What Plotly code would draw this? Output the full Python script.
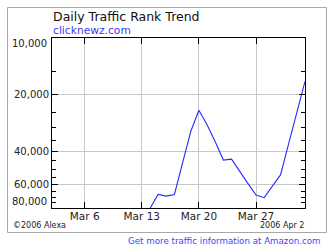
import math
import plotly.graph_objects as go

# ---- data ----
dates = ["2006-03-14", "2006-03-15", "2006-03-16", "2006-03-17", "2006-03-18",
         "2006-03-19", "2006-03-20", "2006-03-21", "2006-03-22", "2006-03-23",
         "2006-03-24", "2006-03-25", "2006-03-26", "2006-03-27", "2006-03-28",
         "2006-03-29", "2006-03-30", "2006-03-31", "2006-04-01", "2006-04-02"]
ranks = [80500, 67800, 69200, 67800, 46100,
         31400, 24200, 28900, 35600, 44500,
         44000, 51300, 59200, 68300, 70500,
         61200, 53400, 36400, 24500, 17000]

x_tickvals = ["2006-03-06", "2006-03-13", "2006-03-20", "2006-03-27"]
x_ticktext = ["Mar 6", "Mar 13", "Mar 20", "Mar 27"]
y_tickvals = [10000, 20000, 40000, 60000, 80000]
y_ticktext = ["10,000", "20,000", "40,000", "60,000", "80,000"]
y_minorvals = [15000, 25000, 30000, 35000, 45000, 50000, 55000, 65000, 70000, 75000]

title_text = "Daily Traffic Rank Trend"
site_text = "clicknewz.com"
copyright_text = "\u00a92006 Alexa"
date_text = "2006 Apr 2"
link_text = "Get more traffic information at Amazon.com"

FONT = "DejaVu Sans"
W, H = 334, 249
L, R, T, B = 52, 29, 38, 41
PW, PH = W - L - R, H - T - B


def px_x(p):
    return (p - L) / PW


def px_y(p):
    return (H - B - p) / PH


fig = go.Figure()
fig.add_trace(go.Scatter(x=dates, y=ranks, mode="lines",
                         line=dict(color="#2a2aff", width=1.1),
                         hoverinfo="skip", showlegend=False))

fig.update_layout(
    width=W, height=H,
    margin=dict(l=L, r=R, t=T, b=B, pad=0),
    paper_bgcolor="white", plot_bgcolor="white",
    font=dict(family=FONT, color="#222222", size=10),
    xaxis=dict(
        type="date", range=["2006-03-02", "2006-04-02"],
        tickmode="array", tickvals=x_tickvals, ticktext=x_ticktext,
        ticks="inside", ticklen=6, tickcolor="black", tickwidth=1,
        showline=True, linecolor="black", linewidth=1, mirror="ticks",
        showgrid=True, gridcolor="#c8c8c8", gridwidth=1,
        zeroline=False, tickfont=dict(size=10.5, color="#222222"),
        ticklabelstandoff=-2,
        fixedrange=True,
    ),
    yaxis=dict(
        type="log", range=[math.log10(80000), math.log10(10000)],
        tickmode="array", tickvals=y_tickvals,
        ticktext=["", y_ticktext[1], y_ticktext[2], y_ticktext[3], ""],
        ticks="inside", ticklen=6, tickcolor="black", tickwidth=1,
        showline=True, linecolor="black", linewidth=1, mirror="ticks",
        showgrid=True, gridcolor="#c8c8c8", gridwidth=1,
        zeroline=False, tickfont=dict(size=10, color="#222222"),
        minor=dict(tickmode="array", tickvals=y_minorvals, ticks="inside",
                   ticklen=4, tickcolor="black", tickwidth=1, showgrid=False),
        fixedrange=True,
    ),
)

# end labels of y axis, nudged inward as in the original
fig.add_annotation(xref="paper", yref="y", x=px_x(48.5), y=math.log10(10000),
                   text=y_ticktext[0], showarrow=False, xanchor="right",
                   yanchor="middle", yshift=-5,
                   font=dict(family=FONT, size=10, color="#222222"))
fig.add_annotation(xref="paper", yref="y", x=px_x(48.5), y=math.log10(80000),
                   text=y_ticktext[4], showarrow=False, xanchor="right",
                   yanchor="middle", yshift=7,
                   font=dict(family=FONT, size=10, color="#222222"))

# outer frame
fig.add_shape(type="rect", xref="paper", yref="paper",
              x0=px_x(7.5), x1=px_x(326.5), y0=px_y(232.5), y1=px_y(7.5),
              line=dict(color="#a8a8a8", width=1), layer="below")

fig.add_annotation(xref="paper", yref="paper", x=px_x(51), y=px_y(16),
                   text=title_text, showarrow=False, xanchor="left", yanchor="middle",
                   font=dict(family=FONT, size=12.5, color="#111111"))
fig.add_annotation(xref="paper", yref="paper", x=px_x(51), y=px_y(30.8),
                   text=site_text, showarrow=False, xanchor="left", yanchor="middle",
                   font=dict(family=FONT, size=10.7, color="#3c3cf5"))
fig.add_annotation(xref="paper", yref="paper", x=px_x(11), y=px_y(225.5),
                   text=copyright_text, showarrow=False, xanchor="left", yanchor="middle",
                   font=dict(family=FONT, size=8, color="#222222"))
fig.add_annotation(xref="paper", yref="paper", x=px_x(305.5), y=px_y(225),
                   text=date_text, showarrow=False, xanchor="right", yanchor="middle",
                   font=dict(family=FONT, size=8, color="#222222"))
fig.add_annotation(xref="paper", yref="paper", x=px_x(323), y=px_y(240.5),
                   text=link_text, showarrow=False, xanchor="right", yanchor="middle",
                   font=dict(family=FONT, size=8.7, color="#4444ff"))

fig.write_html("out.html", config={"displayModeBar": False})
